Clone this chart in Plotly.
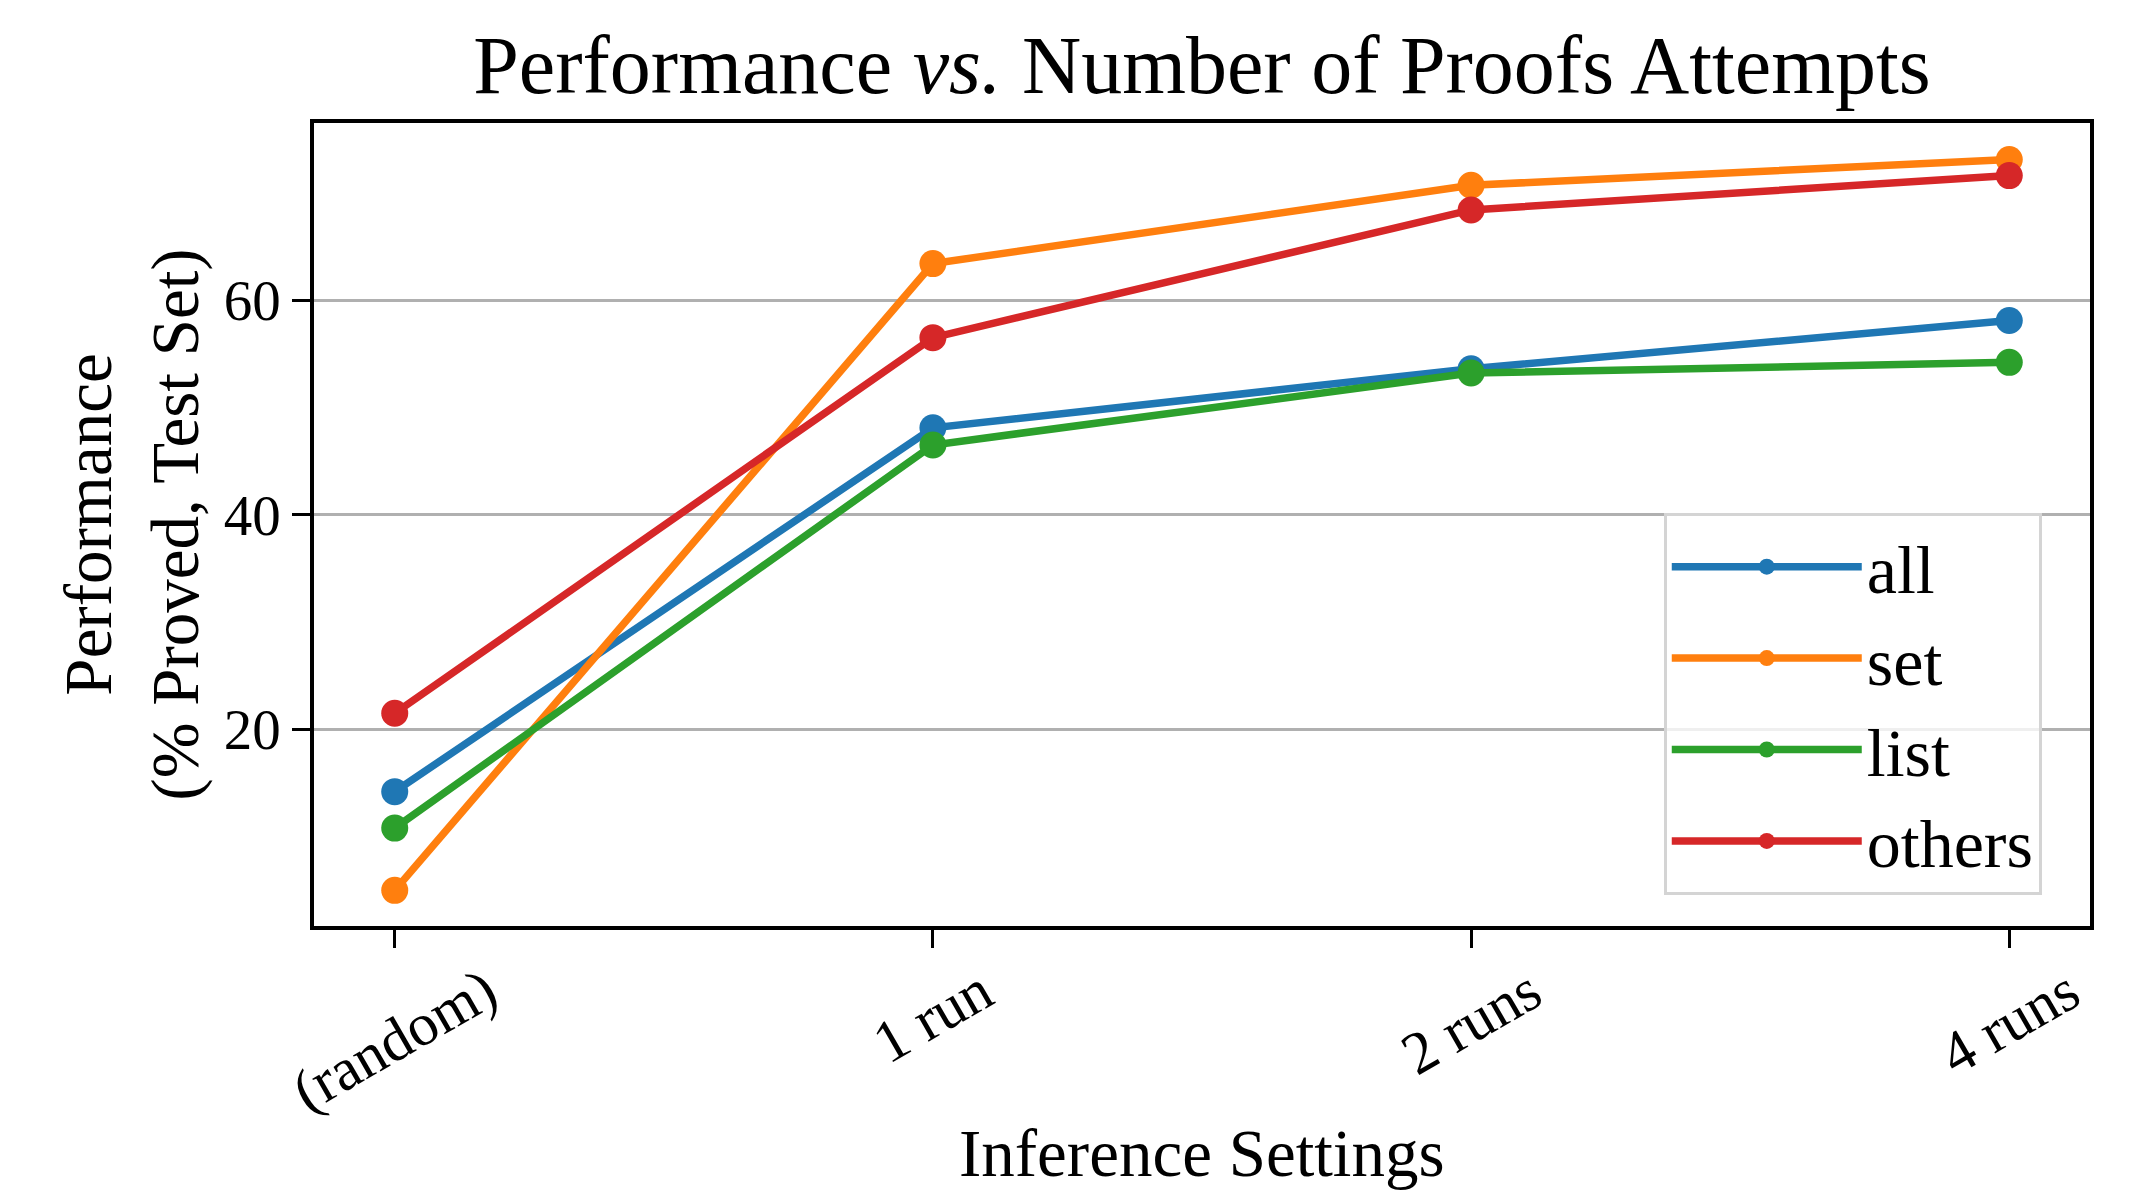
import plotly.graph_objects as go

categories = ["(random)", "1 run", "2 runs", "4 runs"]
series_names = ["all", "set", "list", "others"]
all_vals = [14.2, 48.1, 53.6, 58.1]
set_vals = [5.0, 63.4, 70.7, 73.1]
list_vals = [10.8, 46.5, 53.2, 54.2]
others_vals = [21.5, 56.5, 68.4, 71.6]
colors = ["#1f77b4", "#ff7f0e", "#2ca02c", "#d62728"]
y_ticks = [20, 40, 60]
x_title = "Inference Settings"

FONT = "Liberation Serif"
W, H = 2130, 1194
ML, MR, MT, MB = 314, 40, 123, 268

fig = go.Figure()
xpos = list(range(len(categories)))
for name, vals, col in zip(series_names, [all_vals, set_vals, list_vals, others_vals], colors):
    fig.add_trace(go.Scatter(
        x=xpos, y=vals, name=name, mode="lines+markers",
        line=dict(color=col, width=7.5),
        marker=dict(color=col, size=27),
    ))

# rotated, centered tick labels
for i, lab in enumerate(categories):
    fig.add_annotation(
        x=i, xref="x", y=-0.034, yref="paper",
        text=lab, showarrow=False, textangle=-30,
        xanchor="center", yanchor="top",
        font=dict(family=FONT, size=60, color="black"),
    )

# x-axis title
fig.add_annotation(
    x=0.5, xref="paper", y=-0.283, yref="paper",
    text=x_title, showarrow=False,
    xanchor="center", yanchor="middle",
    font=dict(family=FONT, size=67, color="black"),
)

fig.update_layout(
    width=W, height=H,
    margin=dict(l=ML, r=MR, t=MT, b=MB),
    paper_bgcolor="white", plot_bgcolor="white",
    font=dict(family=FONT, color="black"),
    title=dict(
        text="Performance <i>vs.</i> Number of Proofs Attempts",
        x=0.5, xref="paper", xanchor="center",
        y=1 - 64 / H, yref="container", yanchor="middle",
        font=dict(family=FONT, size=82, color="black"),
    ),
    xaxis=dict(
        range=[-0.15, 3.15],
        tickvals=xpos, ticktext=[""] * len(categories),
        showticklabels=False,
        ticks="outside", ticklen=18, tickwidth=3, tickcolor="black",
        showline=True, linecolor="black", linewidth=3.5, mirror=True,
        showgrid=False, zeroline=False,
    ),
    yaxis=dict(
        range=[1.68, 76.5],
        tickvals=y_ticks,
        ticks="outside", ticklen=18, tickwidth=3, tickcolor="black",
        tickfont=dict(family=FONT, size=57, color="black"),
        showline=True, linecolor="black", linewidth=3.5, mirror=True,
        showgrid=True, gridcolor="#b0b0b0", gridwidth=3,
        zeroline=False,
        title=dict(text="Performance<br>(% Proved, Test Set)", standoff=4,
                   font=dict(family=FONT, size=67, color="black")),
    ),
    legend=dict(
        x=0.760, xanchor="left", y=0.0386, yanchor="bottom",
        bgcolor="rgba(255,255,255,0.8)", bordercolor="#d4d4d4", borderwidth=3,
        font=dict(family=FONT, size=68, color="black"),
        itemwidth=190,
    ),
    showlegend=True,
)

fig.write_html(
    "out.html",
    config={"displayModeBar": False},
    post_script="document.body.style.margin='0';document.body.style.overflow='hidden';",
)
